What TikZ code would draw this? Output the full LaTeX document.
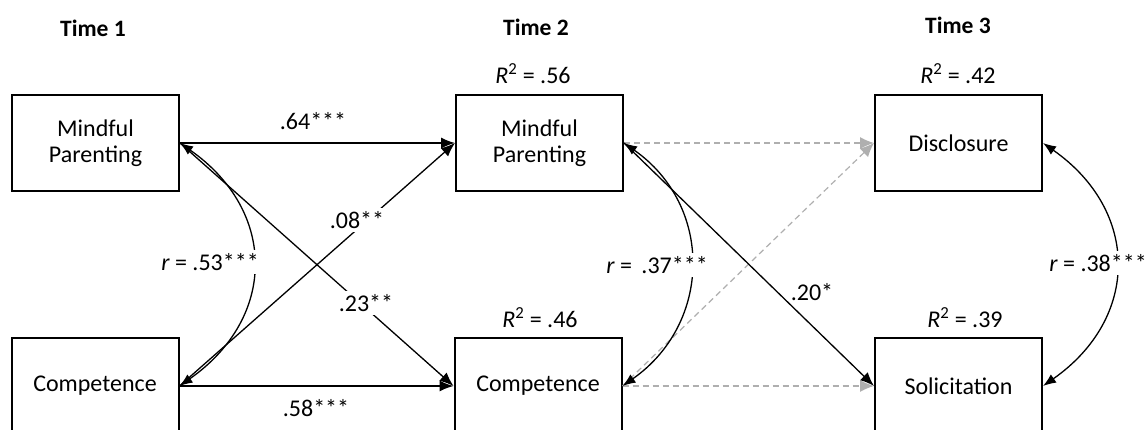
\documentclass[tikz,border=0pt]{standalone}
\usepackage{fontspec}
\setmainfont{Carlito}
\usetikzlibrary{arrows.meta}
\definecolor{nsgray}{RGB}{175,175,175}
\begin{document}
\begin{tikzpicture}[x=1pt,y=-1pt,
  txt/.style={font=\fontsize{24}{28}\selectfont, inner sep=1pt},
  hdr/.style={font=\fontsize{23.5}{28}\selectfont\bfseries, inner sep=1pt},
  lbl/.style={txt, fill=white, inner sep=3pt},
  var/.style={draw, line width=2pt, minimum width=167pt, minimum height=96pt, align=center, txt},
  sigpath/.style={line width=1.3pt, -{Latex[length=14pt,width=11pt]}},
  corr/.style={line width=1.3pt, {Latex[length=13pt,width=10pt]}-{Latex[length=13pt,width=10pt]}},
  ns/.style={line width=1.2pt, draw=nsgray, dash pattern=on 6pt off 4pt,
     -{Latex[length=14pt,width=12pt]}}
]
\useasboundingbox (0,0) rectangle (1148,430);
\fill[white] (0,0) rectangle (1148,430);

% headers
\node[hdr] (t1) at (93,28) {Time 1};
\node[hdr] (t2) at (536,27) {Time 2};
\node[hdr] (t3) at (958,25) {Time 3};

% variables
\node[var] (mp1) at (95.5,143) {Mindful\\[-2pt]Parenting};
\node[var] (c1)  at (95,386) {Competence};
\node[var] (mp2) at (539.5,143) {Mindful\\[-2pt]Parenting};
\node[var] (c2)  at (538,386) {Competence};
\node[var] (d)   at (958.5,143) {Disclosure};
\node[var] (s)   at (958.5,386) {Solicitation};

% R squared
\node[txt] (r2a) at (533,74) {\textit{R}\textsuperscript{2} = .56};
\node[txt] (r2b) at (958,74) {\textit{R}\textsuperscript{2} = .42};
\node[txt] (r2c) at (540,318) {\textit{R}\textsuperscript{2} = .46};
\node[txt] (r2d) at (965,318) {\textit{R}\textsuperscript{2} = .39};

% nonsignificant paths
\draw[ns] (mp2.east) -- (d.west);
\draw[ns] (c2.east) -- (d.west);
\draw[ns] (c2.east) -- (s.west);

% significant paths
\draw[sigpath] (mp1.east) -- (mp2.west);
\draw[sigpath] (c1.east) -- (c2.west);
\draw[sigpath] (mp1.east) -- (c2.west);
\draw[sigpath] (c1.east) -- (mp2.west);
\draw[sigpath] (mp2.east) -- (s.west);

% correlations
\draw[corr] (mp1.east) to[out=-35,in=35,looseness=1.25] (c1.east);
\draw[corr] (mp2.east) to[out=-35,in=35,looseness=1.15] (c2.east);
\draw[corr] (d.east) to[out=-35,in=35,looseness=1.25] (s.east);

% coefficient labels
\node[txt] (l64) at (313,121) {.64***};
\node[txt] (l58) at (316,408) {.58***};
\node[lbl] (l08) at (357,220) {.08**};
\node[lbl] (l23) at (366,303) {.23**};
\node[txt] (l20) at (812,292) {.20*};
\node[lbl] (r53) at (210,262) {\textit{r} = .53***};
\node[lbl] (r37) at (657,265) {\textit{r} =\, .37***};
\node[lbl] (r38) at (1098,263) {\textit{r} = .38***};
\end{tikzpicture}
\end{document}
